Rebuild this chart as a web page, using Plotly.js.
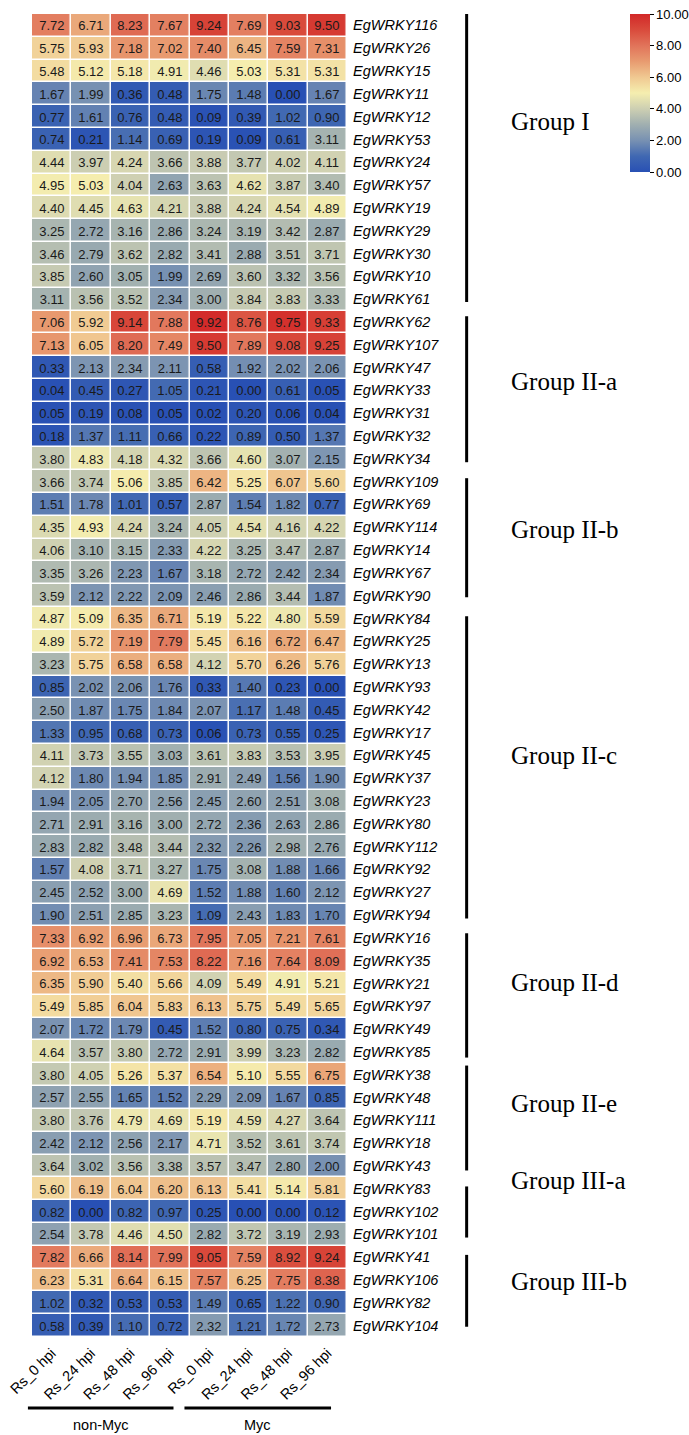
<!DOCTYPE html>
<html>
<head>
<meta charset="utf-8">
<script src="https://cdn.plot.ly/plotly-3.0.1.min.js"></script>
<style>html,body{margin:0;padding:0;background:#fff;}#chart{width:689px;height:1435px;}</style>
</head>
<body>
<div id="chart"></div>
<script>
const samples = ["Rs_0 hpi","Rs_24 hpi","Rs_48 hpi","Rs_96 hpi","Rs_0 hpi","Rs_24 hpi","Rs_48 hpi","Rs_96 hpi"];
const genes = ["EgWRKY116","EgWRKY26","EgWRKY15","EgWRKY11","EgWRKY12","EgWRKY53","EgWRKY24","EgWRKY57","EgWRKY19","EgWRKY29","EgWRKY30","EgWRKY10","EgWRKY61",
"EgWRKY62","EgWRKY107","EgWRKY47","EgWRKY33","EgWRKY31","EgWRKY32","EgWRKY34",
"EgWRKY109","EgWRKY69","EgWRKY114","EgWRKY14","EgWRKY67","EgWRKY90",
"EgWRKY84","EgWRKY25","EgWRKY13","EgWRKY93","EgWRKY42","EgWRKY17","EgWRKY45","EgWRKY37","EgWRKY23","EgWRKY80","EgWRKY112","EgWRKY92","EgWRKY27","EgWRKY94",
"EgWRKY16","EgWRKY35","EgWRKY21","EgWRKY97","EgWRKY49","EgWRKY85",
"EgWRKY38","EgWRKY48","EgWRKY111","EgWRKY18","EgWRKY43",
"EgWRKY83","EgWRKY102","EgWRKY101",
"EgWRKY41","EgWRKY106","EgWRKY82","EgWRKY104"];
const expr = [
[7.72,6.71,8.23,7.67,9.24,7.69,9.03,9.50],
[5.75,5.93,7.18,7.02,7.40,6.45,7.59,7.31],
[5.48,5.12,5.18,4.91,4.46,5.03,5.31,5.31],
[1.67,1.99,0.36,0.48,1.75,1.48,0.00,1.67],
[0.77,1.61,0.76,0.48,0.09,0.39,1.02,0.90],
[0.74,0.21,1.14,0.69,0.19,0.09,0.61,3.11],
[4.44,3.97,4.24,3.66,3.88,3.77,4.02,4.11],
[4.95,5.03,4.04,2.63,3.63,4.62,3.87,3.40],
[4.40,4.45,4.63,4.21,3.88,4.24,4.54,4.89],
[3.25,2.72,3.16,2.86,3.24,3.19,3.42,2.87],
[3.46,2.79,3.62,2.82,3.41,2.88,3.51,3.71],
[3.85,2.60,3.05,1.99,2.69,3.60,3.32,3.56],
[3.11,3.56,3.52,2.34,3.00,3.84,3.83,3.33],
[7.06,5.92,9.14,7.88,9.92,8.76,9.75,9.33],
[7.13,6.05,8.20,7.49,9.50,7.89,9.08,9.25],
[0.33,2.13,2.34,2.11,0.58,1.92,2.02,2.06],
[0.04,0.45,0.27,1.05,0.21,0.00,0.61,0.05],
[0.05,0.19,0.08,0.05,0.02,0.20,0.06,0.04],
[0.18,1.37,1.11,0.66,0.22,0.89,0.50,1.37],
[3.80,4.83,4.18,4.32,3.66,4.60,3.07,2.15],
[3.66,3.74,5.06,3.85,6.42,5.25,6.07,5.60],
[1.51,1.78,1.01,0.57,2.87,1.54,1.82,0.77],
[4.35,4.93,4.24,3.24,4.05,4.54,4.16,4.22],
[4.06,3.10,3.15,2.33,4.22,3.25,3.47,2.87],
[3.35,3.26,2.23,1.67,3.18,2.72,2.42,2.34],
[3.59,2.12,2.22,2.09,2.46,2.86,3.44,1.87],
[4.87,5.09,6.35,6.71,5.19,5.22,4.80,5.59],
[4.89,5.72,7.19,7.79,5.45,6.16,6.72,6.47],
[3.23,5.75,6.58,6.58,4.12,5.70,6.26,5.76],
[0.85,2.02,2.06,1.76,0.33,1.40,0.23,0.00],
[2.50,1.87,1.75,1.84,2.07,1.17,1.48,0.45],
[1.33,0.95,0.68,0.73,0.06,0.73,0.55,0.25],
[4.11,3.73,3.55,3.03,3.61,3.83,3.53,3.95],
[4.12,1.80,1.94,1.85,2.91,2.49,1.56,1.90],
[1.94,2.05,2.70,2.56,2.45,2.60,2.51,3.08],
[2.71,2.91,3.16,3.00,2.72,2.36,2.63,2.86],
[2.83,2.82,3.48,3.44,2.32,2.26,2.98,2.76],
[1.57,4.08,3.71,3.27,1.75,3.08,1.88,1.66],
[2.45,2.52,3.00,4.69,1.52,1.88,1.60,2.12],
[1.90,2.51,2.85,3.23,1.09,2.43,1.83,1.70],
[7.33,6.92,6.96,6.73,7.95,7.05,7.21,7.61],
[6.92,6.53,7.41,7.53,8.22,7.16,7.64,8.09],
[6.35,5.90,5.40,5.66,4.09,5.49,4.91,5.21],
[5.49,5.85,6.04,5.83,6.13,5.75,5.49,5.65],
[2.07,1.72,1.79,0.45,1.52,0.80,0.75,0.34],
[4.64,3.57,3.80,2.72,2.91,3.99,3.23,2.82],
[3.80,4.05,5.26,5.37,6.54,5.10,5.55,6.75],
[2.57,2.55,1.65,1.52,2.29,2.09,1.67,0.85],
[3.80,3.76,4.79,4.69,5.19,4.59,4.27,3.64],
[2.42,2.12,2.56,2.17,4.71,3.52,3.61,3.74],
[3.64,3.02,3.56,3.38,3.57,3.47,2.80,2.00],
[5.60,6.19,6.04,6.20,6.13,5.41,5.14,5.81],
[0.82,0.00,0.82,0.97,0.25,0.00,0.00,0.12],
[2.54,3.78,4.46,4.50,2.82,3.72,3.19,2.93],
[7.82,6.66,8.14,7.99,9.05,7.59,8.92,9.24],
[6.23,5.31,6.64,6.15,7.57,6.25,7.75,8.38],
[1.02,0.32,0.53,0.53,1.49,0.65,1.22,0.90],
[0.58,0.39,1.10,0.72,2.32,1.21,1.72,2.73]
];
const groupNames = ["Group I","Group II-a","Group II-b","Group II-c","Group II-d","Group II-e","Group III-a","Group III-b"];
const groupFirstGene = ["EgWRKY116","EgWRKY62","EgWRKY109","EgWRKY84","EgWRKY16","EgWRKY38","EgWRKY83","EgWRKY41"];
const groupLastGene  = ["EgWRKY61","EgWRKY34","EgWRKY90","EgWRKY94","EgWRKY85","EgWRKY43","EgWRKY101","EgWRKY104"];
const treatments = ["non-Myc","Myc"];
const colorbarTicks = [0,2,4,6,8,10];

// layout-only: label vertical offsets relative to group start (rows) and bracket padding
const labelRowOffset = [4.2, 2.6, 2.1, 6.0, 1.95, 1.25, -0.35, 1.05];
const bracketPadTop = [0.5, 0.25, 0.15, 0.1, 0.2, 0.4, 0.1, 0.1];
const bracketPadBot = [0.13, 0.15, 0.07, 0.15, 0.25, 0.2, 0.14, 0.05];

const W = 689, H = 1435;
const px = v => v / W;
const py = v => 1 - v / H;

const xIdx = samples.map((s,i)=>i);
const yIdx = genes.map((g,i)=>i);

const colorscale = [
 [0.0,'#2850b4'],[0.1,'#4068b2'],[0.2,'#7891b2'],[0.3,'#a0afb0'],[0.4,'#cdcfb2'],
 [0.5,'#f5eeaf'],[0.6,'#f0c891'],[0.7,'#e89b70'],[0.8,'#e1735a'],[0.9,'#d94b3c'],[1.0,'#d22828']
];

const trace = {
  type:'heatmap', x:xIdx, y:yIdx, z:expr, zmin:0, zmax:10,
  colorscale:colorscale, xgap:1.5, ygap:1.5,
  texttemplate:'%{z:.2f}', textfont:{family:'Liberation Sans, Arial', size:13, color:'#1a1a1a'},
  hoverinfo:'skip',
  colorbar:{
    thickness:20, len:158, lenmode:'pixels', x:px(632), xanchor:'left', xpad:0,
    y:py(14), yanchor:'top', ypad:0, outlinewidth:0,
    tickvals:colorbarTicks, ticktext:colorbarTicks.map(v=>v.toFixed(2)),
    ticks:'outside', ticklen:4, tickcolor:'#000', tickwidth:1,
    tickfont:{family:'Liberation Sans, Arial', size:13, color:'#000'}
  }
};

const shapes = [];
const annotations = [];
groupNames.forEach((g,i)=>{
  const a = genes.indexOf(groupFirstGene[i]);
  const b = genes.indexOf(groupLastGene[i]);
  shapes.push({type:'line', xref:'paper', yref:'y', x0:px(468), x1:px(468), y0:a-bracketPadTop[i], y1:b+bracketPadBot[i],
    line:{color:'#000', width:3}});
  annotations.push({xref:'paper', yref:'y', x:px(510), y:a+labelRowOffset[i], text:g, showarrow:false,
    xanchor:'left', yanchor:'middle', font:{family:'Liberation Serif, Times New Roman', size:25, color:'#000'}});
});
// treatment bars
const barX = [[28,174],[185,332]];
treatments.forEach((t,i)=>{
  shapes.push({type:'line', xref:'paper', yref:'paper', x0:px(barX[i][0]), x1:px(barX[i][1]), y0:py(1408), y1:py(1408),
    line:{color:'#000', width:3}});
  annotations.push({xref:'paper', yref:'paper', x:px((barX[i][0]+barX[i][1])/2), y:py(1425), text:t, showarrow:false,
    xanchor:'center', yanchor:'middle', font:{family:'Liberation Sans, Arial', size:14.5, color:'#000'}});
});

const layout = {
  width:W, height:H, margin:{l:0,r:0,t:0,b:0}, paper_bgcolor:'#fff', plot_bgcolor:'#fff',
  xaxis:{domain:[px(32),px(348)], range:[-0.5,7.5], tickvals:xIdx, ticktext:samples, tickangle:-45,
    showgrid:false, zeroline:false, showline:false, ticks:'', ticklabelstandoff:4,
    tickfont:{family:'Liberation Sans, Arial', size:14.5, color:'#000'}},
  yaxis:{domain:[py(1337),py(14)], range:[57.5,-0.5], tickvals:yIdx, ticktext:genes, side:'right',
    showgrid:false, zeroline:false, showline:false, ticks:'', ticklabelstandoff:5,
    tickfont:{family:'Liberation Sans, Arial', size:14.5, color:'#000', style:'italic'}},
  shapes:shapes, annotations:annotations, showlegend:false
};

Plotly.newPlot('chart',[trace],layout,{displayModeBar:false, staticPlot:true});
</script>
</body>
</html>
